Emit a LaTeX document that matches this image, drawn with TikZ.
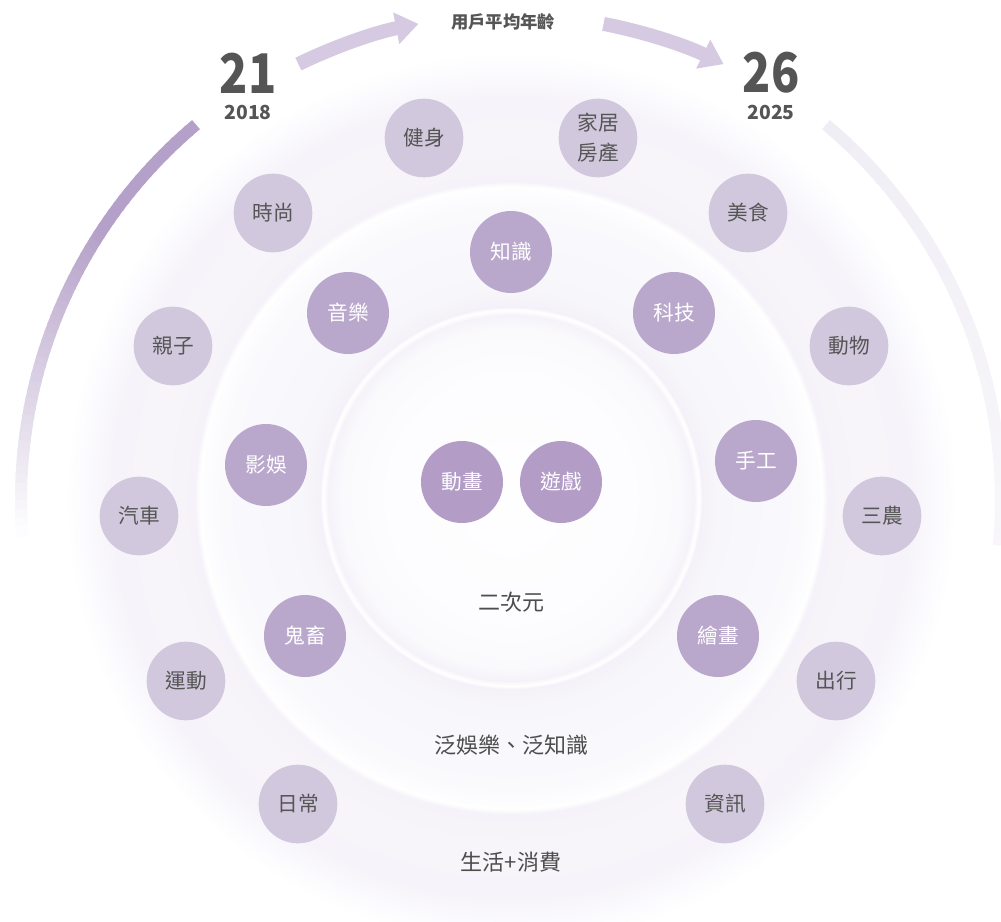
\documentclass[tikz,border=0pt]{standalone}
\usepackage{fontspec}
\setmainfont{Noto Sans CJK TC}
\usetikzlibrary{arrows.meta}
\definecolor{cInner}{HTML}{B39DC7}
\definecolor{cMid}{HTML}{B9A8CC}
\definecolor{cOut}{HTML}{D2C8DD}
\definecolor{txtdark}{HTML}{555555}
\definecolor{lbltxt}{HTML}{4D4D4D}
\definecolor{arrowc}{HTML}{D6CAE2}
\definecolor{arcL}{HTML}{B4A0C8}
\definecolor{arcR}{HTML}{F0EEF5}
\pgfdeclareradialshading{bgshade}{\pgfpointorigin}{%
 rgb(0bp)=(0.996,0.996,1);
 rgb(6bp)=(0.992,0.988,0.996);
 rgb(8.5bp)=(0.980,0.976,0.988);
 rgb(9.15bp)=(0.961,0.953,0.976);
 rgb(9.4bp)=(1,1,1);
 rgb(9.55bp)=(0.957,0.949,0.973);
 rgb(10.5bp)=(0.969,0.965,0.984);
 rgb(14.5bp)=(0.980,0.976,0.988);
 rgb(15.25bp)=(0.992,0.988,0.996);
 rgb(15.55bp)=(1,1,1);
 rgb(15.8bp)=(0.961,0.953,0.976);
 rgb(17.5bp)=(0.969,0.961,0.980);
 rgb(20bp)=(0.965,0.957,0.980);
 rgb(21.25bp)=(0.984,0.980,0.992);
 rgb(22.25bp)=(1,1,1);
 rgb(50bp)=(1,1,1)}
\tikzset{
  bub/.style={circle, inner sep=0pt, minimum size=61.5pt, font=\fontsize{15.5}{18}\selectfont},
  inbub/.style={bub, fill=cInner, text=white},
  midbub/.style={bub, fill=cMid, text=white},
  outbub/.style={bub, fill=cOut, text=txtdark, minimum size=59pt},
  lbl/.style={text=lbltxt, font=\fontsize{16.5}{20}\selectfont},
  bignum/.style={text=txtdark, font=\fontsize{41}{45}\bfseries\selectfont, xscale=0.85},
  yearlbl/.style={text=txtdark, font=\fontsize{14.5}{17}\bfseries\selectfont},
  titlelbl/.style={text=txtdark, font=\fontsize{13}{15}\bfseries\selectfont},
  agearrow/.style={draw=arrowc, line width=10.5pt, -{Triangle[width=23pt,length=17pt]}}
}
\begin{document}
\begin{tikzpicture}[x=0.75pt,y=0.75pt]
\useasboundingbox (0,0) rectangle (1001,-922);
\clip (0,0) rectangle (1001,-922);
\fill[white] (0,0) rectangle (1001,-922);
% background glow
\shade[shading=bgshade] (511,-498) circle[radius=500];
% left gradient arc
\foreach \a in {130,...,183}{
  \pgfmathsetmacro\p{min(100,max(0,100*(184-\a)/38))}
  \draw[line width=9pt, draw=arcL!\p!white] ({511+490*cos(\a)},{-500+490*sin(\a)}) arc[start angle=\a, end angle=\a+1.3, radius=490];
}
% right light arc
\foreach \a in {50,49,...,-4}{
  \pgfmathsetmacro\p{100-50*(50-\a)/54}
  \draw[line width=9pt, draw=arcR!\p!white] ({511+490*cos(\a)},{-500+490*sin(\a)}) arc[start angle=\a, end angle=\a-1.3, radius=490];
}
% age arrows
\coordinate (la) at ({511+485*cos(116)},{-500+485*sin(116)});
\coordinate (ra) at ({511+485*cos(79)},{-500+485*sin(79)});
\draw[agearrow] (la) arc[start angle=116, end angle=101, radius=485];
\draw[agearrow] (ra) arc[start angle=79, end angle=64, radius=485];
\node[titlelbl] (title) at (503,-22) {用戶平均年齡};
\node[bignum] (n21) at (248,-73) {21};
\node[yearlbl] (y2018) at (248,-112) {2018};
\node[bignum] (n26) at (771,-73) {26};
\node[yearlbl] (y2025) at (771,-112) {2025};
% inner
\node[inbub] (donghua) at (462,-482) {動畫};
\node[inbub] (youxi) at (561,-482) {遊戲};
% middle ring
\node[midbub] (zhishi) at (511,-252) {知識};
\node[midbub] (yinyue) at (348,-313) {音樂};
\node[midbub] (keji) at (674,-313) {科技};
\node[midbub] (yingyu) at (266,-465) {影娛};
\node[midbub] (shougong) at (756,-461) {手工};
\node[midbub] (guichu) at (305,-636) {鬼畜};
\node[midbub] (huihua) at (718,-636) {繪畫};
% outer ring
\node[outbub] (jianshen) at (424,-138) {健身};
\node[outbub, align=center, font=\fontsize{15.5}{22.5}\selectfont] (jiaju) at (598,-138) {家居\\房產};
\node[outbub] (meishi) at (748,-213) {美食};
\node[outbub] (dongwu) at (849,-346) {動物};
\node[outbub] (sannong) at (882,-516) {三農};
\node[outbub] (chuxing) at (836,-681) {出行};
\node[outbub] (zixun) at (725,-804) {資訊};
\node[outbub] (richang) at (298,-804) {日常};
\node[outbub] (yundong) at (186,-681) {運動};
\node[outbub] (qiche) at (139,-516) {汽車};
\node[outbub] (qinzi) at (173,-346) {親子};
\node[outbub] (shishang) at (273,-213) {時尚};
% ring labels
\node[lbl] (erciyuan) at (511,-602) {二次元};
\node[lbl] (fanyule) at (511,-745) {泛娛樂、泛知識};
\node[lbl] (shenghuo) at (511,-862) {生活+消費};
\end{tikzpicture}
\end{document}
